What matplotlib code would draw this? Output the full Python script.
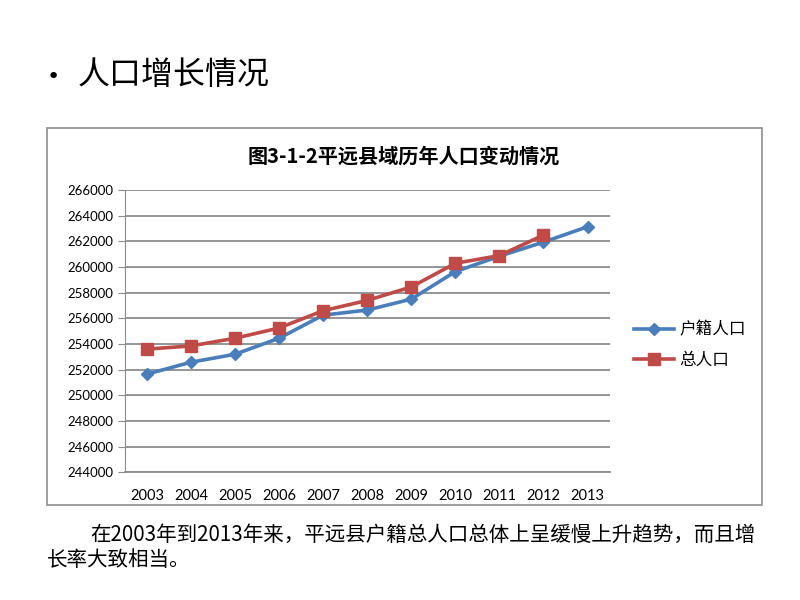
import matplotlib.pyplot as plt
from matplotlib.patches import Rectangle

plt.rcParams['font.family'] = ['Noto Sans CJK SC', 'DejaVu Sans']

years = ['2003', '2004', '2005', '2006', '2007', '2008', '2009', '2010', '2011', '2012', '2013']
huji = [251650, 252580, 253200, 254450, 256250, 256650, 257500, 259650, 260850, 261950, 263150]
zong = [253600, 253850, 254450, 255250, 256600, 257400, 258450, 260300, 260900, 262500]
yticks = list(range(244000, 266001, 2000))

fig = plt.figure(figsize=(8, 6), dpi=100)
fig.patch.set_facecolor('white')

# slide heading and chart frame
fig.text(0.058, 0.872, '•', fontsize=16, va='center', family='DejaVu Sans')
fig.text(0.097, 0.875, '人口增长情况', fontsize=23, va='center')
fig.patches.append(Rectangle((0.059, 0.158), 0.893, 0.628, transform=fig.transFigure,
                             fill=False, edgecolor='#8c8c8c', linewidth=1.2))
fig.text(0.505, 0.74, '图3-1-2平远县域历年人口变动情况', fontsize=14.5,
         fontweight='bold', ha='center', va='center')

ax = fig.add_axes([0.156, 0.213, 0.606, 0.47])
x = range(len(years))
ax.plot(x, huji, color='#4a7ebb', linewidth=2.6, marker='D', markersize=6.5, label='户籍人口', zorder=3)
ax.plot(range(len(zong)), zong, color='#be4b48', linewidth=2.6, marker='s', markersize=8.5, label='总人口', zorder=4)

ax.set_xlim(-0.5, len(years) - 0.5)
ax.set_ylim(244000, 266000)
ax.set_yticks(yticks)
ax.set_yticklabels([str(v) for v in yticks], family=['Lato', 'DejaVu Sans'], fontsize=9.5)
ax.set_xticks(list(x))
ax.set_xticklabels(years, family=['Lato', 'DejaVu Sans'], fontsize=10.5)
ax.grid(axis='y', color='#8c8c8c', linewidth=1.3)
ax.set_axisbelow(True)
for s in ['top', 'right']:
    ax.spines[s].set_visible(False)
ax.spines['left'].set_color('#8c8c8c')
ax.spines['bottom'].set_color('#8c8c8c')
ax.spines['bottom'].set_linewidth(1.3)
ax.tick_params(axis='y', color='#8c8c8c', length=5, pad=3)
ax.tick_params(axis='x', length=0, pad=12)

ax.legend(loc='center left', bbox_to_anchor=(1.02, 0.45), frameon=False, fontsize=12,
          handlelength=2.4, labelspacing=0.8, handletextpad=0.3)

fig.text(0.113, 0.108, '在2003年到2013年来，平远县户籍总人口总体上呈缓慢上升趋势，而且增',
         fontsize=14.8, va='center')
fig.text(0.058, 0.066, '长率大致相当。', fontsize=14.8, va='center')

fig.savefig('out.png', dpi=100)
